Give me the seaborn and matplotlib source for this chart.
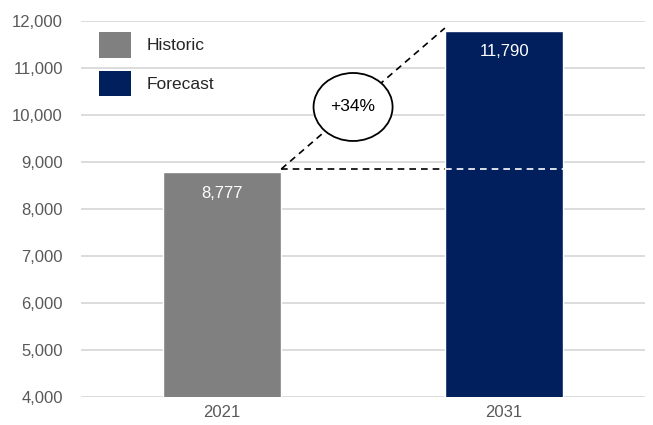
import matplotlib
matplotlib.use("Agg")
import matplotlib.pyplot as plt
from matplotlib.patches import Patch, Ellipse
import seaborn as sns
import pandas as pd

# Data
years = ["2021", "2031"]
values = [8777, 11790]
series = ["Historic", "Forecast"]
colors = ["#808080", "#001f5c"]
growth_label = "+34%"
y_ticks = [4000, 5000, 6000, 7000, 8000, 9000, 10000, 11000, 12000]

sns.set_theme(style="white")
plt.rcParams["font.family"] = ["Liberation Sans", "DejaVu Sans"]

df = pd.DataFrame({"year": years, "value": values, "series": series})

fig, ax = plt.subplots(figsize=(6.53, 4.25), dpi=100)
fig.subplots_adjust(left=0.124, right=0.988, bottom=0.066, top=0.9506)

sns.barplot(data=df, x="year", y="value", hue="series", palette=colors,
            width=0.42, dodge=False, legend=False, ax=ax, zorder=2,
            saturation=1)

ax.set_ylim(y_ticks[0], y_ticks[-1])
ax.set_xlim(-0.5, 1.5)
ax.set_yticks(y_ticks)
ax.set_yticklabels([f"{v:,}" for v in y_ticks])
ax.yaxis.grid(True, color="#d9d9d9", linewidth=1.3, zorder=0)
ax.set_axisbelow(True)
for s in ax.spines.values():
    s.set_visible(False)
ax.tick_params(axis="both", length=0, labelsize=12, colors="#595959")
ax.tick_params(axis="y", pad=13)
ax.tick_params(axis="x", pad=6)
ax.set_xlabel("")
ax.set_ylabel("")

# value labels inside the bars
for i, v in enumerate(values):
    ax.text(i, v - 440, f"{v:,}", ha="center", va="center",
            color="white", fontsize=12, zorder=4)

# growth connector: baseline level carried across and a diagonal to the top
half = 0.21
base_level = 8850
top_level = 11850
ax.plot([0 + half, 1 - half], [base_level, base_level], color="black",
        linestyle=(0, (4, 3)), linewidth=1.2, zorder=3)
ax.plot([1 - half, 1 + half], [base_level, base_level], color="white",
        linestyle=(0, (4, 3)), linewidth=1.2, zorder=3)
ax.plot([0 + half, 1 - half], [base_level, top_level], color="black",
        linestyle=(0, (4, 3)), linewidth=1.2, zorder=3)

# circled growth figure
cx = 0.5 + (353 - 363) / 282
cy = 4000 + (397 - 107) / 47 * 1000
ell = Ellipse((cx, cy), width=79 / 282, height=68 / 47 * 1000,
              facecolor="white", edgecolor="black", linewidth=1.3, zorder=5)
ax.add_patch(ell)
ax.text(cx, cy, growth_label, ha="center", va="center", fontsize=12.5,
        color="black", zorder=6)

handles = [Patch(facecolor=c, edgecolor="none", label=s)
           for c, s in zip(colors, series)]
fig.legend(handles=handles, loc="upper left",
           bbox_to_anchor=(99 / 653, 1 - 32 / 425), frameon=False,
           fontsize=12.5, handlelength=1.85, handleheight=1.9,
           handletextpad=0.9, labelspacing=0.75, borderpad=0,
           borderaxespad=0)

fig.savefig("out.png", dpi=100)
